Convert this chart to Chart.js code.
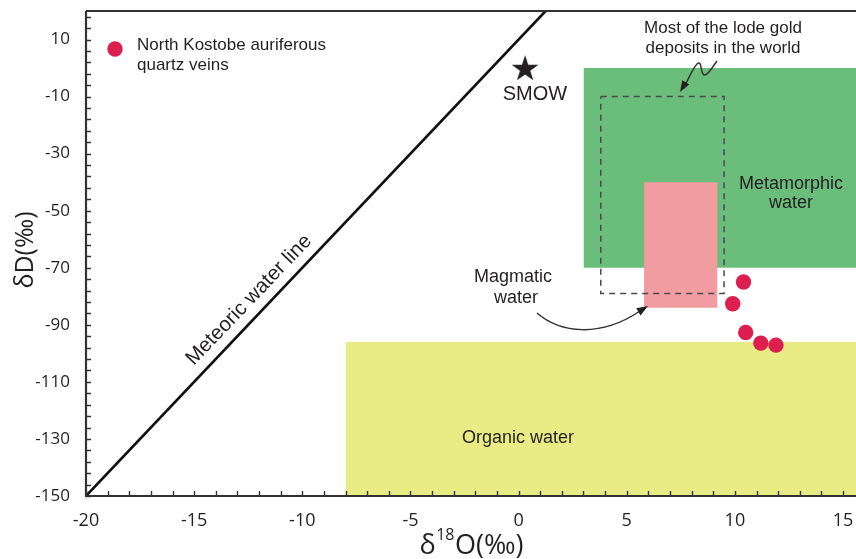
<!DOCTYPE html>
<html>
<head>
<meta charset="utf-8">
<script src="https://cdn.jsdelivr.net/npm/chart.js@4.4.0/dist/chart.umd.min.js"></script>
<style>
  html, body { margin: 0; padding: 0; background: #fff; }
  canvas { display: block; }
</style>
</head>
<body>
<canvas id="grafico" width="856" height="559"></canvas>
<script>
const xLabelValues = [-20, -15, -10, -5, 0, 5, 10, 15];
const yLabelValues = [-150, -130, -110, -90, -70, -50, -30, -10, 10];
const xMin = -20, xMax = 15.6, yMin = -150, yMax = 20;

// North Kostobe auriferous quartz veins
const sampleX = [10.4, 9.9, 10.5, 11.2, 11.9];
const sampleY = [-75, -82.6, -92.7, -96.4, -97.1];

const smowX = [0.3];
const smowY = [0];

const meteoricX = [-20, 1.25];
const meteoricY = [-150, 20];

// caixas: [min, max]
const metamorphicX = [3, 15.6];
const metamorphicY = [-70, 0];
const magmaticX = [5.8, 9.2];
const magmaticY = [-84, -40];
const organicX = [-8, 15.6];
const organicY = [-150, -96];
const lodeGoldX = [3.8, 9.5];
const lodeGoldY = [-79, -10];

const TEXT = '#231f20';
const SANS = '"Liberation Sans", Arial, sans-serif';

function boxDataset(xs, ys, cor, ordem) {
    return {
        data: [{ x: xs[0], y: ys[1] }, { x: xs[1], y: ys[1] }],
        borderColor: 'rgba(0,0,0,0)',
        borderWidth: 0,
        pointRadius: 0,
        backgroundColor: cor,
        fill: { value: ys[0] },
        order: ordem
    };
}

// estrela do SMOW
var estrela = document.createElement('canvas');
estrela.width = 30; estrela.height = 30;
var ec = estrela.getContext('2d');
ec.beginPath();
for (var i = 0; i < 10; i++) {
    var r = i % 2 ? 5.4 : 14;
    var ang = -Math.PI / 2 + i * Math.PI / 5;
    ec.lineTo(15 + r * Math.cos(ang), 16 + r * Math.sin(ang));
}
ec.closePath();
ec.fillStyle = TEXT;
ec.fill();

function seta(ctx, fromX, fromY, toX, toY) {
    var a = Math.atan2(toY - fromY, toX - fromX);
    ctx.beginPath();
    ctx.moveTo(toX, toY);
    ctx.lineTo(toX - 12 * Math.cos(a - 0.35), toY - 12 * Math.sin(a - 0.35));
    ctx.lineTo(toX - 12 * Math.cos(a + 0.35), toY - 12 * Math.sin(a + 0.35));
    ctx.closePath();
    ctx.fill();
}

function semPadding(s) {
    s.paddingLeft = 0; s.paddingRight = 0; s.paddingTop = 0; s.paddingBottom = 0;
}

const decoracao = {
    id: 'decoracao',
    afterDatasetsDraw(chart) {
        const ctx = chart.ctx;
        const a = chart.chartArea;
        const x = chart.scales.x, y = chart.scales.y;
        ctx.save();

        // ticks para dentro
        ctx.strokeStyle = '#333';
        ctx.lineWidth = 1.4;
        ctx.beginPath();
        x.ticks.forEach(t => {
            var px = Math.round(x.getPixelForValue(t.value)) + 0.5;
            ctx.moveTo(px, a.bottom); ctx.lineTo(px, a.bottom - 5);
        });
        y.ticks.forEach(t => {
            var py = Math.round(y.getPixelForValue(t.value)) + 0.5;
            ctx.moveTo(a.left, py); ctx.lineTo(a.left + 5, py);
        });
        ctx.stroke();

        // eixos e borda superior
        ctx.lineWidth = 2.2;
        ctx.beginPath();
        ctx.moveTo(a.left, a.top); ctx.lineTo(a.left, a.bottom); ctx.lineTo(a.right, a.bottom);
        ctx.moveTo(a.left, a.top); ctx.lineTo(a.right, a.top);
        ctx.stroke();

        // legenda
        ctx.fillStyle = '#dc1f4e';
        ctx.beginPath(); ctx.arc(115, 49, 7.7, 0, Math.PI * 2); ctx.fill();
        ctx.fillStyle = TEXT;
        ctx.font = '17px ' + SANS;
        ctx.textAlign = 'left'; ctx.textBaseline = 'alphabetic';
        ctx.fillText('North Kostobe auriferous', 137, 50);
        ctx.fillText('quartz veins', 137, 70);

        // anotacoes
        ctx.textAlign = 'center';
        ctx.fillText('Most of the lode gold', 723, 33);
        ctx.fillText('deposits in the world', 723, 53);
        ctx.font = '18px ' + SANS;
        ctx.fillText('Metamorphic', 791, 189);
        ctx.fillText('water', 791, 208);
        ctx.fillText('Magmatic', 513, 282);
        ctx.fillText('water', 516, 303);
        ctx.fillText('Organic water', 518, 443);
        ctx.font = '20px ' + SANS;
        ctx.fillText('SMOW', 535, 100);

        // Meteoric water line
        ctx.save();
        ctx.translate(249, 300);
        ctx.rotate(-46.3 * Math.PI / 180);
        ctx.textBaseline = 'middle';
        ctx.font = '20.5px ' + SANS;
        ctx.fillText('Meteoric water line', 0, 0);
        ctx.restore();

        // setas
        ctx.strokeStyle = '#333';
        ctx.fillStyle = '#222';
        ctx.lineWidth = 1.5;
        ctx.beginPath();
        ctx.moveTo(537, 313);
        ctx.bezierCurveTo(560, 333, 600, 338, 640, 311);
        ctx.stroke();
        seta(ctx, 630, 317, 648, 306);

        ctx.beginPath();
        ctx.moveTo(717, 61);
        ctx.bezierCurveTo(712, 68, 706, 78, 703, 74);
        ctx.bezierCurveTo(700, 70, 702, 60, 697, 64);
        ctx.bezierCurveTo(693, 68, 689, 78, 685, 85);
        ctx.stroke();
        seta(ctx, 686, 82, 680, 92);

        // titulos dos eixos
        ctx.fillStyle = TEXT;
        ctx.font = '27px "Open Sans", sans-serif';
        ctx.textAlign = 'left';
        ctx.textBaseline = 'alphabetic';
        var t1 = 'δ', t2 = 'O(‰)';
        var w1 = ctx.measureText(t1).width, w3 = ctx.measureText(t2).width;
        ctx.font = '16px "Open Sans", sans-serif';
        var w2 = ctx.measureText('18').width;
        var x0 = (a.left + a.right) / 2 - (w1 + w2 + w3) / 2;
        ctx.font = '27px "Open Sans", sans-serif';
        ctx.fillText(t1, x0, 554);
        ctx.fillText(t2, x0 + w1 + w2 + 1, 554);
        ctx.font = '16px "Open Sans", sans-serif';
        ctx.fillText('18', x0 + w1 + 0.5, 540);

        ctx.save();
        ctx.translate(33, 250);
        ctx.rotate(-Math.PI / 2);
        ctx.textAlign = 'center';
        ctx.font = '25px "Open Sans", sans-serif';
        ctx.fillText('δD(‰)', 0, 0);
        ctx.restore();

        ctx.restore();
    }
};

var ctx1 = document.getElementById('grafico').getContext('2d');
var grafico = new Chart(ctx1, {
    type: 'line',
    data: {
        datasets: [
            boxDataset(organicX, organicY, '#e9eb84', 10),
            boxDataset(metamorphicX, metamorphicY, '#6bbd7c', 9),
            boxDataset(magmaticX, magmaticY, '#f09ca0', 8),
            {
                data: [
                    { x: lodeGoldX[0], y: lodeGoldY[1] }, { x: lodeGoldX[1], y: lodeGoldY[1] },
                    { x: lodeGoldX[1], y: lodeGoldY[0] }, { x: lodeGoldX[0], y: lodeGoldY[0] },
                    { x: lodeGoldX[0], y: lodeGoldY[1] }
                ],
                borderColor: '#4a4a4a', borderWidth: 1.5, borderDash: [6, 5],
                pointRadius: 0, fill: false, order: 7
            },
            {
                data: meteoricX.map((v, i) => ({ x: v, y: meteoricY[i] })),
                borderColor: '#111', borderWidth: 2.6,
                pointRadius: 0, fill: false, order: 6
            },
            {
                data: smowX.map((v, i) => ({ x: v, y: smowY[i] })),
                showLine: false, pointStyle: estrela, pointRadius: 14, order: 5
            },
            {
                data: sampleX.map((v, i) => ({ x: v, y: sampleY[i] })),
                showLine: false, pointRadius: 7.7, borderWidth: 0,
                backgroundColor: '#dc1f4e', order: 1
            }
        ]
    },
    options: {
        responsive: false,
        animation: false,
        events: [],
        layout: { autoPadding: false, padding: { top: 11, left: 0, right: 0, bottom: 0 } },
        plugins: { legend: { display: false }, tooltip: { enabled: false } },
        scales: {
            x: {
                type: 'linear', min: xMin, max: xMax,
                border: { display: false },
                grid: { display: false },
                afterBuildTicks: function (s) {
                    s.ticks = [];
                    for (var v = -20; v <= 15; v++) s.ticks.push({ value: v });
                },
                afterFit: function (s) { s.height = 63; semPadding(s); },
                ticks: {
                    autoSkip: false, maxRotation: 0, padding: 6, color: TEXT,
                    font: { family: '"Open Sans", sans-serif', size: 18 },
                    callback: v => xLabelValues.includes(v) ? String(v) : ''
                }
            },
            y: {
                type: 'linear', min: yMin, max: yMax,
                border: { display: false },
                grid: { display: false },
                afterBuildTicks: function (s) {
                    s.ticks = [];
                    for (var v = -150; v <= 18; v += 4) s.ticks.push({ value: v });
                },
                afterFit: function (s) { s.width = 86; semPadding(s); },
                ticks: {
                    autoSkip: false, padding: 8, color: TEXT,
                    font: { family: '"Open Sans", sans-serif', size: 17 },
                    callback: v => yLabelValues.includes(v) ? String(v) : ''
                }
            }
        }
    },
    plugins: [decoracao]
});
</script>
</body>
</html>
